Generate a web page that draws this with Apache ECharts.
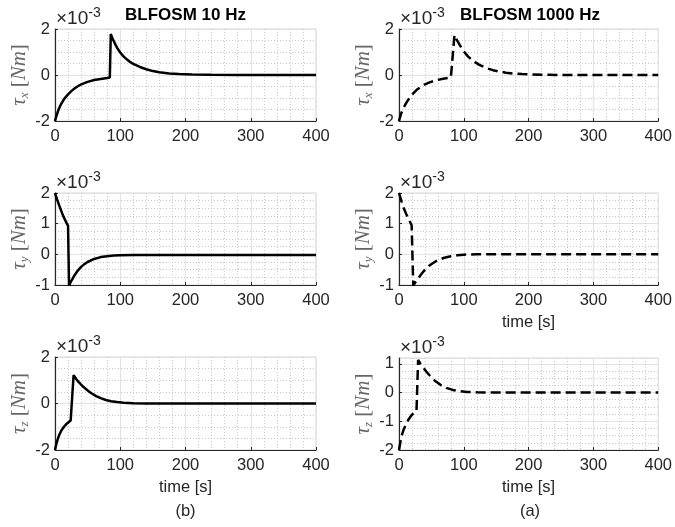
<!DOCTYPE html>
<html>
<head>
<meta charset="utf-8">
<script src="https://cdn.jsdelivr.net/npm/echarts@6/dist/echarts.min.js"></script>
<style>
  html, body { margin: 0; padding: 0; background: #fff; }
  #chart { width: 675px; height: 527px; }
</style>
</head>
<body>
<div id="chart"></div>
<script>
// Control torques, in units of 1e-3 Nm, versus time in seconds.

// BLFOSM 10 Hz
const tauX10Time = [0, 2, 4, 6, 8, 10, 13, 16, 20, 25, 30, 35, 40, 50, 60, 70, 80, 84, 85.5, 88, 90, 93, 96, 100, 105, 110, 115, 120, 130, 140, 150, 160, 175, 190, 210, 240, 280, 400];
const tauX10 = [-2, -1.8, -1.62, -1.47, -1.34, -1.23, -1.09, -0.97, -0.84, -0.7, -0.58, -0.49, -0.41, -0.3, -0.22, -0.17, -0.13, -0.11, 1.78, 1.6, 1.48, 1.3, 1.14, 0.98, 0.81, 0.68, 0.57, 0.48, 0.35, 0.25, 0.17, 0.12, 0.07, 0.04, 0.02, 0.01, 0, 0];

const tauY10Time = [0, 3, 6, 9, 12, 15, 18, 20, 20.8, 21.5, 23, 26, 30, 35, 40, 45, 50, 60, 70, 80, 90, 100, 120, 150, 200, 300, 400];
const tauY10 = [2, 1.8, 1.62, 1.45, 1.28, 1.14, 1.01, 0.93, 0.9, -1.02, -0.95, -0.83, -0.68, -0.53, -0.41, -0.32, -0.25, -0.15, -0.09, -0.06, -0.04, -0.03, -0.02, -0.02, -0.02, -0.02, -0.02];

const tauZ10Time = [0, 2, 4, 6, 9, 12, 15, 18, 21, 24, 27, 28.5, 30, 33, 36, 39, 43, 47, 52, 57, 63, 70, 78, 86, 95, 105, 120, 140, 170, 400];
const tauZ10 = [-2, -1.75, -1.55, -1.39, -1.2, -1.07, -0.96, -0.87, -0.8, -0.73, -0.67, 1.22, 1.15, 1.03, 0.93, 0.84, 0.73, 0.63, 0.52, 0.42, 0.32, 0.23, 0.15, 0.1, 0.06, 0.035, 0.015, 0.005, 0, 0];

// BLFOSM 1000 Hz
const tauX1000Time = [0, 3, 6, 11, 16, 22, 28, 37, 47, 57, 68, 80, 83, 85.6, 90, 98, 106, 114, 124, 134, 145, 155, 165, 175, 190, 205, 230, 260, 400];
const tauX1000 = [-2, -1.7, -1.48, -1.22, -1.0, -0.8, -0.63, -0.45, -0.32, -0.23, -0.16, -0.11, -0.1, 1.74, 1.48, 1.1, 0.82, 0.62, 0.44, 0.31, 0.21, 0.15, 0.1, 0.07, 0.04, 0.02, 0.01, 0, 0];

const tauY1000Time = [0, 4, 8, 12, 16, 19.5, 20.5, 22, 25, 29, 34, 40, 46, 52, 60, 70, 80, 90, 100, 120, 400];
const tauY1000 = [2, 1.72, 1.47, 1.27, 1.1, 0.95, 0.9, -1.02, -0.92, -0.8, -0.66, -0.5, -0.38, -0.29, -0.19, -0.11, -0.06, -0.03, -0.01, 0, 0];

const tauZ1000Time = [0, 3.6, 7, 11, 15, 19, 23, 27, 28, 29.5, 33, 38, 42, 47, 52, 57, 65, 73, 83, 93, 105, 120, 140, 400];
const tauZ1000 = [-2, -1.54, -1.3, -1.09, -0.93, -0.8, -0.71, -0.64, -0.62, 1.13, 1.0, 0.85, 0.73, 0.6, 0.48, 0.38, 0.25, 0.16, 0.09, 0.05, 0.02, 0.01, 0, 0];

// Axis ticks
const timeTicks = { min: 0, max: 400, interval: 100 };
const torqueAxes = [
  { min: -2, max: 2, interval: 2 },   // tau_x, 10 Hz
  { min: -2, max: 2, interval: 2 },   // tau_x, 1000 Hz
  { min: -1, max: 2, interval: 1 },   // tau_y, 10 Hz
  { min: -1, max: 2, interval: 1 },   // tau_y, 1000 Hz
  { min: -2, max: 2, interval: 2 },   // tau_z, 10 Hz
  { min: -2, max: 1.2, interval: 1 }  // tau_z, 1000 Hz
];
const axisSub = ['x', 'x', 'y', 'y', 'z', 'z'];
const panelTitles = ['BLFOSM 10 Hz', 'BLFOSM 1000 Hz'];

const FONT = 'Liberation Sans';
const SERIF = 'Liberation Serif';
const INK = '#262626';
const LABEL_GRAY = '#666666';

const pair = (t, v) => t.map((x, i) => [x, v[i]]);
const panelData = [
  pair(tauX10Time, tauX10), pair(tauX1000Time, tauX1000),
  pair(tauY10Time, tauY10), pair(tauY1000Time, tauY1000),
  pair(tauZ10Time, tauZ10), pair(tauZ1000Time, tauZ1000)
];

const grids = [
  { left: 55, top: 29, width: 261, height: 92 },
  { left: 399, top: 29, width: 262, height: 92 },
  { left: 55, top: 193, width: 261, height: 92 },
  { left: 399, top: 193, width: 262, height: 92 },
  { left: 55, top: 357, width: 261, height: 93 },
  { left: 399, top: 358, width: 262, height: 92 }
].map(g => Object.assign({ show: true, borderColor: '#d6d6d6', borderWidth: 1, containLabel: false }, g));

const showTimeName = [false, false, false, true, true, true];

const xAxes = grids.map((g, i) => ({
  type: 'value',
  gridIndex: i,
  min: timeTicks.min, max: timeTicks.max, interval: timeTicks.interval,
  name: showTimeName[i] ? 'time [s]' : '',
  nameLocation: 'middle',
  nameGap: 29,
  nameTextStyle: { fontFamily: FONT, fontSize: 16.5, color: INK },
  axisLine: { show: true, onZero: false, lineStyle: { color: INK, width: 1.2 } },
  axisTick: { show: true, inside: true, length: 3, lineStyle: { color: INK } },
  axisLabel: { fontFamily: FONT, fontSize: 16.5, color: INK, margin: 7 },
  splitLine: { show: true, lineStyle: { color: '#e3e3e3', width: 1 } },
  minorTick: { show: false, splitNumber: 5 },
  minorSplitLine: { show: true, lineStyle: { color: '#c8c8c8', width: 1, type: [1, 2] } }
}));

const yAxes = grids.map((g, i) => ({
  type: 'value',
  gridIndex: i,
  min: torqueAxes[i].min, max: torqueAxes[i].max, interval: torqueAxes[i].interval,
  name: '{t|τ}{s|' + axisSub[i] + '}{b| [}{n|Nm}{b|]}',
  nameLocation: 'middle',
  nameRotate: 90,
  nameGap: 21,
  nameTextStyle: {
    color: LABEL_GRAY,
    rich: {
      t: { fontFamily: SERIF, fontStyle: 'italic', fontSize: 21, color: LABEL_GRAY, lineHeight: 24 },
      s: { fontFamily: SERIF, fontStyle: 'italic', fontSize: 13, color: LABEL_GRAY, verticalAlign: 'bottom', lineHeight: 24 },
      b: { fontFamily: SERIF, fontSize: 21, color: LABEL_GRAY, lineHeight: 24 },
      n: { fontFamily: SERIF, fontStyle: 'italic', fontSize: 21, color: LABEL_GRAY, lineHeight: 24 }
    }
  },
  axisLine: { show: true, onZero: false, lineStyle: { color: INK, width: 1.2 } },
  axisTick: { show: true, inside: true, length: 3, lineStyle: { color: INK } },
  axisLabel: { fontFamily: FONT, fontSize: 16.5, color: INK, margin: 5, showMaxLabel: i === 5 ? false : null },
  splitLine: { show: true, lineStyle: { color: '#e3e3e3', width: 1 } },
  minorTick: { show: false, splitNumber: 4 },
  minorSplitLine: { show: true, lineStyle: { color: '#c8c8c8', width: 1, type: [1, 2] } }
}));

const series = panelData.map((d, i) => ({
  type: 'line',
  xAxisIndex: i,
  yAxisIndex: i,
  data: d,
  showSymbol: false,
  clip: true,
  lineStyle: { color: '#000', width: 2.5, type: i % 2 === 0 ? 'solid' : [10, 5] },
  z: 5
}));

// Column titles, the ×10^-3 exponent labels and the panel letters
const titles = [
  { text: panelTitles[0], left: 185.5, top: 7 },
  { text: panelTitles[1], left: 530, top: 7 }
].map(t => Object.assign({
  textAlign: 'center', padding: 0,
  textStyle: { fontFamily: FONT, fontSize: 17, fontWeight: 'bold', color: '#000' }
}, t));

const exponentTops = [6, 6, 170, 170, 334, 335];
grids.forEach((g, i) => {
  titles.push({
    text: '{m|×10}{e|-3}',
    left: g.left + 1,
    top: exponentTops[i],
    padding: 0,
    textStyle: {
      fontWeight: 'normal',
      rich: {
        m: { fontFamily: FONT, fontSize: 19, fontWeight: 'normal', color: INK, verticalAlign: 'bottom', lineHeight: 22 },
        e: { fontFamily: FONT, fontSize: 14, fontWeight: 'normal', color: INK, verticalAlign: 'top', lineHeight: 22 }
      }
    }
  });
});
titles.push({ text: '(b)', left: 185.5, top: 503, textAlign: 'center', padding: 0,
  textStyle: { fontFamily: FONT, fontSize: 16.5, fontWeight: 'normal', color: INK } });
titles.push({ text: '(a)', left: 530, top: 503, textAlign: 'center', padding: 0,
  textStyle: { fontFamily: FONT, fontSize: 16.5, fontWeight: 'normal', color: INK } });

const chart = echarts.init(document.getElementById('chart'), null, { renderer: 'canvas' });
chart.setOption({
  animation: false,
  backgroundColor: '#fff',
  title: titles,
  grid: grids,
  xAxis: xAxes,
  yAxis: yAxes,
  series: series
});
</script>
</body>
</html>
